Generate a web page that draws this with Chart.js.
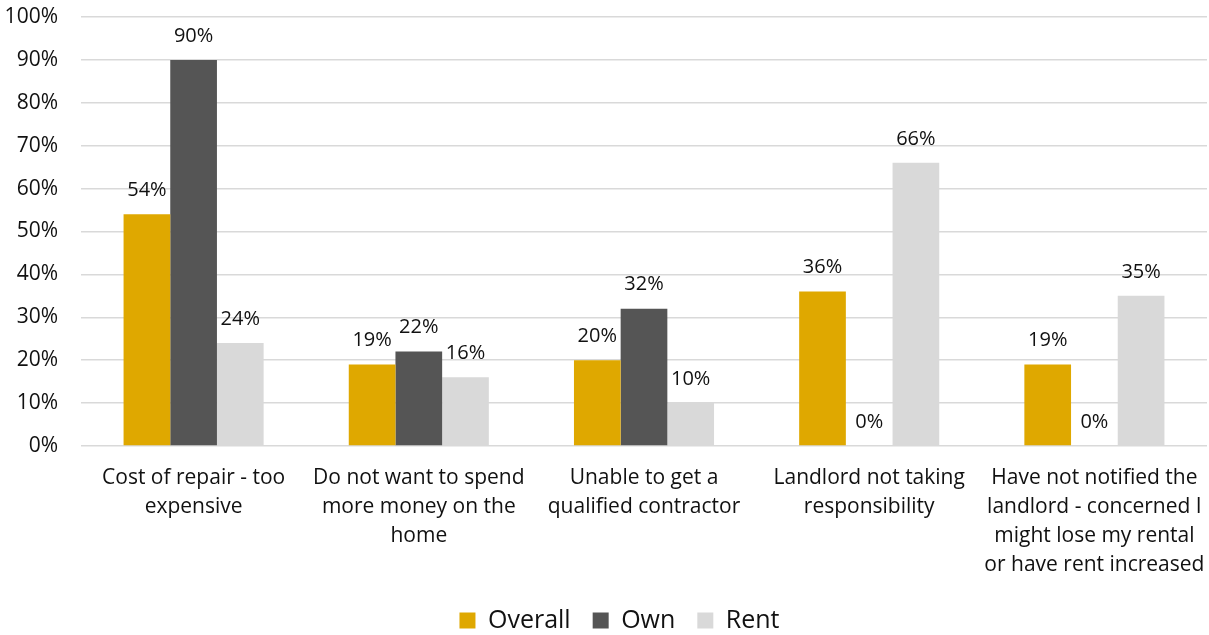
<!DOCTYPE html>
<html>
<head>
<meta charset="utf-8">
<script src="https://cdn.jsdelivr.net/npm/chart.js@4.4.1/dist/chart.umd.min.js"></script>
<style>
  html, body { margin: 0; padding: 0; background: #fff; }
  #wrap { width: 1209px; height: 635px; position: relative; }
</style>
</head>
<body>
<div id="wrap"><canvas id="repairChart"></canvas></div>
<script>
const categories = [
  ["Cost of repair - too", "expensive"],
  ["Do not want to spend", "more money on the", "home"],
  ["Unable to get a", "qualified contractor"],
  ["Landlord not taking", "responsibility"],
  ["Have not notified the", "landlord - concerned I", "might lose my rental", "or have rent increased"]
];
const overall = [54, 19, 20, 36, 19];
const own = [90, 22, 32, 0, 0];
const rent = [24, 16, 10, 66, 35];
const yTicks = [0, 10, 20, 30, 40, 50, 60, 70, 80, 90, 100];

const FONT = "'Open Sans', 'Liberation Sans', sans-serif";
const HIDDEN = "rgba(0,0,0,0)";

// writes the percentage above every bar
const valueLabels = {
  id: "valueLabels",
  afterDatasetsDraw(chart) {
    const ctx = chart.ctx;
    ctx.save();
    ctx.font = "20px " + FONT;
    ctx.fillStyle = "#111";
    ctx.textAlign = "center";
    ctx.textBaseline = "middle";
    chart.data.datasets.forEach((ds, i) => {
      chart.getDatasetMeta(i).data.forEach((bar, j) => {
        ctx.fillText(ds.data[j] + "%", bar.x, bar.y - 24);
      });
    });
    ctx.restore();
  }
};

// nudge the legend a little to the right of the canvas centre
const legendShift = {
  id: "legendShift",
  afterLayout(chart) {
    chart.legend.left += 16;
    chart.legend.right += 16;
  }
};

new Chart(document.getElementById("repairChart"), {
  type: "bar",
  data: {
    labels: categories,
    datasets: [
      { label: "Overall", data: overall, backgroundColor: "#dfa800" },
      { label: "Own", data: own, backgroundColor: "#555555" },
      { label: "Rent", data: rent, backgroundColor: "#d9d9d9" }
    ]
  },
  options: {
    responsive: true,
    maintainAspectRatio: false,
    animation: false,
    datasets: {
      bar: { categoryPercentage: 0.622, barPercentage: 1.0 }
    },
    layout: { padding: { top: 17, right: 2, left: 0, bottom: -8 } },
    plugins: {
      tooltip: { enabled: false },
      legend: {
        position: "bottom",
        labels: {
          boxWidth: 16,
          boxHeight: 16,
          padding: 22,
          color: "#111",
          font: { family: FONT, size: 25 }
        }
      }
    },
    scales: {
      x: {
        // invisible tick marks push the category names down
        grid: {
          drawOnChartArea: false,
          drawTicks: true,
          tickLength: 18,
          tickColor: HIDDEN,
          color: HIDDEN
        },
        border: { display: false },
        ticks: {
          color: "#111",
          font: { family: FONT, size: 21, lineHeight: 1.38 },
          padding: 0,
          maxRotation: 0,
          autoSkip: false
        },
        afterFit(scale) { scale.height = 140; }
      },
      y: {
        min: 0,
        max: 100,
        afterBuildTicks(scale) { scale.ticks = yTicks.map(v => ({ value: v })); },
        grid: {
          color: "#d9d9d9",
          lineWidth: 1.5,
          drawTicks: true,
          tickLength: 23,
          tickColor: HIDDEN
        },
        border: { display: false },
        ticks: {
          color: "#111",
          font: { family: FONT, size: 21 },
          padding: 0,
          callback: v => v + "%"
        },
        afterFit(scale) { scale.width = 81; }
      }
    }
  },
  plugins: [valueLabels, legendShift]
});
</script>
</body>
</html>
